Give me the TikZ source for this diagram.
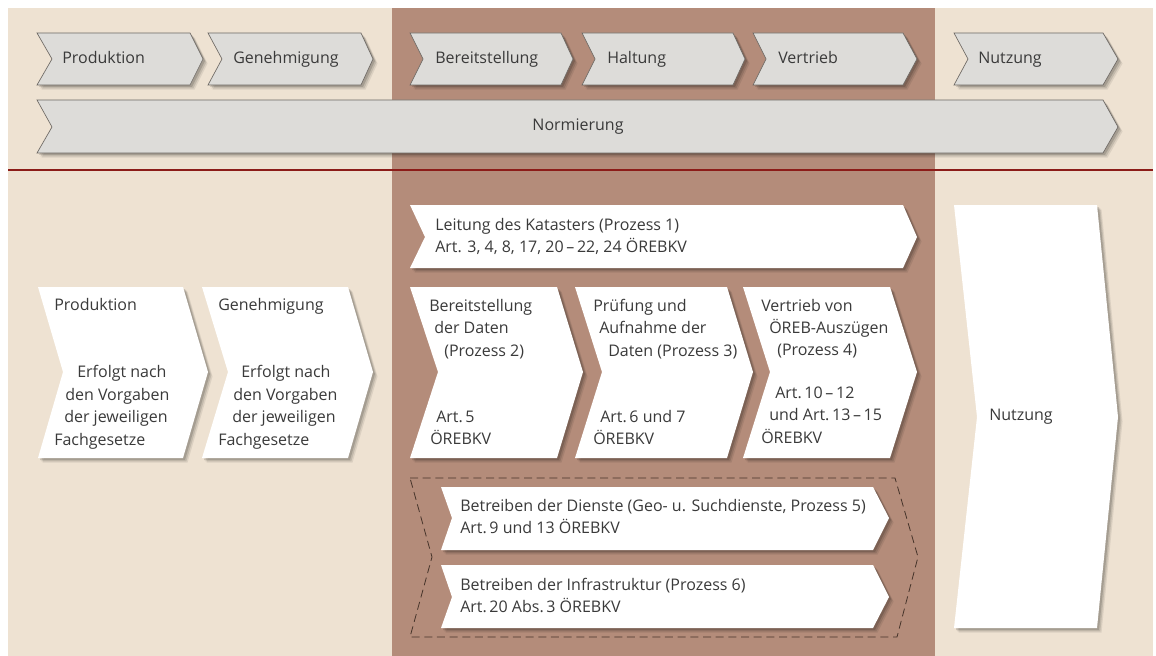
\documentclass[tikz,border=0pt]{standalone}
\usepackage{fontspec}
\setmainfont{Open Sans}
\usetikzlibrary{shadows}
\definecolor{beige}{RGB}{238,226,210}
\definecolor{brownbg}{RGB}{180,140,122}
\definecolor{chevgray}{RGB}{221,220,217}
\definecolor{chevline}{RGB}{110,105,100}
\definecolor{redline}{RGB}{140,28,24}
\definecolor{dashbrown}{RGB}{70,52,42}
\definecolor{txtgray}{RGB}{58,58,58}
\tikzset{
  softshadow/.style={
    general shadow={shadow xshift=3.4pt,shadow yshift=-3.4pt,fill=black,opacity=.08},
    general shadow={shadow xshift=2.5pt,shadow yshift=-2.5pt,fill=black,opacity=.11},
    general shadow={shadow xshift=1.5pt,shadow yshift=-1.5pt,fill=black,opacity=.15}},
  topchev/.style={fill=chevgray,draw=chevline,line width=0.5pt,softshadow},
  whitechev/.style={fill=white,softshadow},
  txt/.style={font=\fontsize{12}{14}\selectfont,text=txtgray,inner sep=0pt,anchor=base west},
  toptxt/.style={font=\fontsize{12}{14}\selectfont,text=txtgray,inner sep=0pt,anchor=base west},
  dashbox/.style={draw=dashbrown,line width=0.6pt,dash pattern=on 6pt off 3.5pt}
}
\begin{document}
\begin{tikzpicture}[x=0.75pt,y=-0.75pt]
\useasboundingbox (0,0) rectangle (1156,656);
% backgrounds
\fill[white] (0,0) rectangle (1156,656);
\fill[beige] (8,8) rectangle (1153,656);
\fill[brownbg] (392,8) rectangle (935,656);
% top chevrons
\path[topchev] (37,33) -- (190,33) -- (203,59) -- (190,85) -- (37,85) -- (52,59) -- cycle;
\path[topchev] (208,33) -- (361,33) -- (373,59) -- (361,85) -- (208,85) -- (222,59) -- cycle;
\path[topchev] (410,33) -- (561,33) -- (573,59) -- (561,85) -- (410,85) -- (423,59) -- cycle;
\path[topchev] (582,33) -- (733,33) -- (745,59) -- (733,85) -- (582,85) -- (595,59) -- cycle;
\path[topchev] (753,33) -- (903,33) -- (917,59) -- (903,85) -- (753,85) -- (766,59) -- cycle;
\path[topchev] (954,33) -- (1103,33) -- (1118,59) -- (1103,85) -- (954,85) -- (968,59) -- cycle;
\path[topchev] (37,100) -- (1103,100) -- (1118,127) -- (1103,153) -- (37,153) -- (52,127) -- cycle;
\node[toptxt] (tp1) at (62,64) {Produktion};
\node[toptxt] (tp2) at (233,64) {Genehmigung};
\node[toptxt] (tp3) at (435,64) {Bereitstellung};
\node[toptxt] (tp4) at (607,64) {Haltung};
\node[toptxt] (tp5) at (778,64) {Vertrieb};
\node[toptxt] (tp6) at (978,64) {Nutzung};
\node[toptxt,anchor=base] (tp7) at (578,131) {Normierung};
% red line
\draw[redline,line width=1.6pt] (8,170) -- (1153,170);
% left white chevrons
\path[whitechev] (38,287) -- (183,287) -- (208,372) -- (183,458) -- (38,458) -- (63,372) -- cycle;
\path[whitechev] (202,287) -- (348,287) -- (373,372) -- (348,458) -- (202,458) -- (228,372) -- cycle;
\node[txt] (pa) at (54,310) {Produktion};
\node[txt] (pb) at (77,377) {Erfolgt nach};
\node[txt] (pc) at (65,400) {den Vorgaben};
\node[txt] (pd) at (64,422) {der jeweiligen};
\node[txt] (pe) at (54,445) {Fachgesetze};
\node[txt] (ga) at (218,310) {Genehmigung};
\node[txt] (gb) at (241,377) {Erfolgt nach};
\node[txt] (gc) at (233,400) {den Vorgaben};
\node[txt] (gd) at (232,422) {der jeweiligen};
\node[txt] (ge) at (218,445) {Fachgesetze};
% Leitung
\path[whitechev] (410,205) -- (903,205) -- (917,237) -- (903,268) -- (410,268) -- (425,237) -- cycle;
\node[txt] (la) at (435,230) {Leitung des Katasters (Prozess 1)};
\node[txt] (lb) at (435,252) {Art. 3, 4, 8, 17, 20\,--\,22, 24 ÖREBKV};
% row of three
\path[whitechev] (410,287) -- (557,287) -- (583,372) -- (557,458) -- (410,458) -- (438,372) -- cycle;
\path[whitechev] (575,287) -- (727,287) -- (753,372) -- (727,458) -- (575,458) -- (602,372) -- cycle;
\path[whitechev] (743,287) -- (890,287) -- (917,372) -- (890,458) -- (743,458) -- (770,372) -- cycle;
\node[txt] (b1a) at (429,311) {Bereitstellung};
\node[txt] (b1b) at (434,333) {der Daten};
\node[txt] (b1c) at (444,356) {(Prozess 2)};
\node[txt] (b1d) at (436,422) {Art.\,5};
\node[txt] (b1e) at (430,444) {ÖREBKV};
\node[txt] (b2a) at (593,311) {Prüfung und};
\node[txt] (b2b) at (599,333) {Aufnahme der};
\node[txt] (b2c) at (608,356) {Daten (Prozess 3)};
\node[txt] (b2d) at (600,422) {Art.\,6 und 7};
\node[txt] (b2e) at (593,444) {ÖREBKV};
\node[txt] (b3a) at (761,311) {Vertrieb von};
\node[txt] (b3b) at (769,333) {ÖREB-Auszügen};
\node[txt] (b3c) at (777,355) {(Prozess 4)};
\node[txt] (b3d) at (775,398) {Art.\,10\,--\,12};
\node[txt] (b3e) at (769,420) {und Art.\,13\,--\,15};
\node[txt] (b3f) at (761,443) {ÖREBKV};
% dashed group
\draw[dashbox] (410,478) -- (895,478) -- (918,557) -- (897,637) -- (410,637) -- (432,557) -- cycle;
\path[whitechev] (441,487) -- (873,487) -- (889,518) -- (873,550) -- (441,550) -- (452,518) -- cycle;
\path[whitechev] (441,565) -- (873,565) -- (889,597) -- (873,628) -- (441,628) -- (452,597) -- cycle;
\node[txt] (da) at (460,511) {Betreiben der Dienste (Geo- u. Suchdienste, Prozess 5)};
\node[txt] (db) at (460,533) {Art.\,9 und 13 ÖREBKV};
\node[txt] (ia) at (460,590) {Betreiben der Infrastruktur (Prozess 6)};
\node[txt] (ib) at (460,612) {Art.\,20 Abs.\,3 ÖREBKV};
% Nutzung big
\path[whitechev] (954,205) -- (1097,205) -- (1118,417) -- (1097,628) -- (954,628) -- (977,417) -- cycle;
\node[txt] (nu) at (989,420) {Nutzung};
\end{tikzpicture}
\end{document}
